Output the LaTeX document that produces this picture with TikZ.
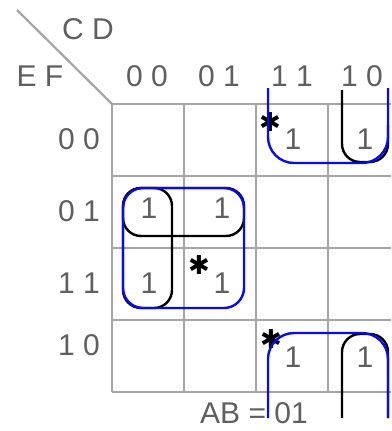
\documentclass[tikz,border=0pt]{standalone}
\usepackage{fontspec}
\setmainfont{Liberation Sans}
\newfontfamily\symfont{DejaVu Sans}
\usepackage{xcolor}
\definecolor{gridgray}{RGB}{165,165,165}
\definecolor{labgray}{RGB}{95,95,95}
\definecolor{loopblue}{RGB}{10,10,235}
\tikzset{
  lab/.style={text=labgray,inner sep=0pt,font=\fontsize{30}{30}\selectfont},
  one/.style={lab},
  starmark/.style={inner sep=0pt,font=\symfont\fontsize{26}{26}\selectfont},
  bloop/.style={loopblue,line width=2.4pt,rounded corners=26pt},
  kloop/.style={black,line width=2.4pt,rounded corners=18pt}
}

\begin{document}
\begin{tikzpicture}[x=1pt,y=-1pt]
  \useasboundingbox (0,0) rectangle (391,431);
  \clip (0,0) rectangle (391,431);
  % grid
  \foreach \x in {112,184,256,328,400}
    \draw[gridgray,line width=2.2pt] (\x,104) -- (\x,392);
  \foreach \y in {104,176,248,320,392}
    \draw[gridgray,line width=2.2pt] (112,\y) -- (400,\y);
  \coordinate (corner) at (112,104);
  \coordinate (tip) at (17,10);
  \draw[gridgray,line width=2.2pt] (tip) -- (corner);
  % variable names
  \node[lab] (cd) at (88,29) {C D};
  \node[lab] (ef) at (40,76) {E F};
  \node[lab] (ab) at (254,413) {AB = 01};
  % column and row headings
  \node[lab] (c00) at (147,76) {0 0};
  \node[lab] (c01) at (219,76) {0 1};
  \node[lab] (c11) at (292,76) {1 1};
  \node[lab] (c10) at (362,76) {1 0};
  \node[lab,anchor=east] (r00) at (100,139) {0 0};
  \node[lab,anchor=east] (r01) at (100,211) {0 1};
  \node[lab,anchor=east] (r11) at (100,283) {1 1};
  \node[lab,anchor=east] (r10) at (100,345) {1 0};
  % ones
  \node[one] (m0011) at (293,139) {1};
  \node[one] (m0010) at (365,139) {1};
  \node[one] (m0100) at (149,208) {1};
  \node[one] (m0101) at (222,208) {1};
  \node[one] (m1100) at (149,283) {1};
  \node[one] (m1101) at (222,283) {1};
  \node[one] (m1011) at (293,357) {1};
  \node[one] (m1010) at (365,357) {1};
  % essential marks
  \node[starmark] (s1) at (270,122) {✱};
  \node[starmark] (s2) at (199,265) {✱};
  \node[starmark] (s3) at (271,339) {✱};
  % black loops
  \draw[kloop] (342,90) -- (342,162) -- (388,162) -- (388,125);
  \draw[kloop] (123,188) rectangle (244,236);
  \draw[kloop] (123,188) rectangle (172,308);
  \draw[kloop] (342,418) -- (342,334) -- (388,334) -- (388,418);
  % blue loops
  \draw[bloop] (268,88) -- (268,163) -- (388,163) -- (388,88);
  \draw[bloop,rounded corners=20pt] (123,188) rectangle (244,308);
  \draw[bloop] (268,418) -- (268,333) -- (388,333) -- (388,418);
\end{tikzpicture}
\end{document}
